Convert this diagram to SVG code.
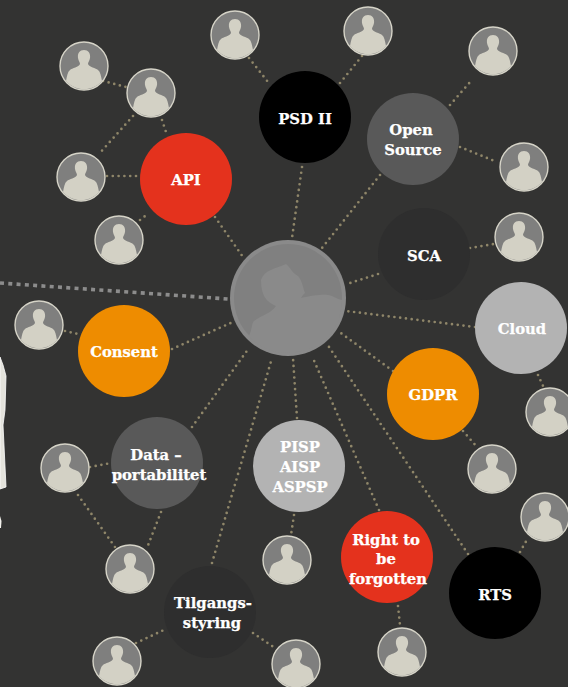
<svg xmlns="http://www.w3.org/2000/svg" width="568" height="687" viewBox="0 0 568 687">
<style>
.c{stroke:#8f8669;stroke-width:2.7;stroke-linecap:round;stroke-dasharray:0 5.8;fill:none}
.t{font-family:"DejaVu Serif","Liberation Serif",serif;font-weight:700;font-size:14.8px;fill:#fff;stroke:#fff;stroke-width:.25;text-anchor:middle}
.n{r:46px}
.red{fill:#e4321d}.org{fill:#ee8c00}.blk{fill:#000}.gr{fill:#595959}.dk{fill:#2e2e2e}.lt{fill:#b3b3b3}
</style>
<defs>
<clipPath id="ac"><circle r="23.4"/></clipPath>
<g id="av">
<circle r="24" fill="#7f7f7e" stroke="#d6d4c8" stroke-width="1.4"/>
<path clip-path="url(#ac)" fill="#d3d1c5" d="M-6-8C-6.500-12-5-16 0-16C5-16 6.500-12 6-8C5.500-5 4-4 4-2C5 1 12 2 14 4C16.500 6 17 10 18 15L18 26L-18 26L-18 15C-17 10-16.500 6-14 4C-12 2-5 1-4-2C-4-4-5.500-5-6-8Z"/>
</g>
</defs>
<rect width="568" height="687" fill="#333332"/>
<path id="edge-shape" d="M0 357L3 365L6 376L5 410L3 425L6 487L0 489Z" fill="#e4e3dc" stroke="#fff" stroke-width=".8"/>
<path d="M0 516L1.500 521L1 528L0 528Z" fill="#f2f1ec"/>
<g id="connectors">
<path d="M0 283L228 299" fill="none" stroke="#8c8c8c" stroke-width="3.600" stroke-dasharray="4 4.300"/>
<path class="c" d="M215 217L243 257M302 167L292 238M380 175L322 248M378 274L347 284M475 327L346 311M393 371L338 331M468 554L327 344M379 510L312 356M297 418L293 358M212 563L272 358M192 427L249 348M172 349L233 322"/>
<path class="c" d="M103 81L126 87M133 116L99 154M162 120L166 132M107 176L138 176M140 220L149 213"/>
<path class="c" d="M90 467L111 463M78 495L115 547M161 512L147 548M136 643L166 629M253 633L275 648"/>
<path class="c" d="M460 147L497 162M450 105L471 81M249 58L268 82M340 83L362 56M470 248L494 244M538 375L544 388M463 431L477 447M520 552L528 538M398 606L400 625M294 515L291 535M65 331L78 334"/>
</g>
<g id="hub">
<circle cx="288" cy="298" r="58" fill="#8a8a8a"/>
<circle cx="288" cy="298" r="54" fill="#808080"/>
<path fill="#8a8a8a" d="M249 336C252 330 252 322 254 321C262 315 270 314 276 306C266 302 261 295 261 280C264 270 275 269 286 264C291 268 291 272 298 276C302 280 303 288 305 293C303 295 302 296 301 298C312 295 325 294 328 295C334 296 336 299 342 300C342 320 330 345 305 350C285 356 262 352 249 336Z"/>
</g>
<g id="api"><circle class="red" cx="186" cy="179" r="46"/><text class="t" x="186" y="185">API</text></g>
<g id="psd"><circle class="blk" cx="305" cy="117" r="46"/><text class="t" x="305" y="124">PSD II</text></g>
<g id="open-source"><circle class="gr" cx="413" cy="139" r="46"/><text class="t" x="411" y="135">Open</text><text class="t" x="413" y="155">Source</text></g>
<g id="sca"><circle class="dk" cx="424" cy="254" r="46"/><text class="t" x="424" y="261">SCA</text></g>
<g id="cloud"><circle class="lt" cx="521" cy="328" r="46"/><text class="t" x="522" y="334">Cloud</text></g>
<g id="gdpr"><circle class="org" cx="433" cy="394" r="46"/><text class="t" x="433" y="400">GDPR</text></g>
<g id="rts"><circle class="blk" cx="495" cy="593" r="46"/><text class="t" x="495" y="600">RTS</text></g>
<g id="right"><circle class="red" cx="387" cy="557" r="46"/><text class="t" x="386" y="545">Right to</text><text class="t" x="386" y="564">be</text><text class="t" x="388" y="584">forgotten</text></g>
<g id="pisp"><circle class="lt" cx="299" cy="466" r="46"/><text class="t" x="300" y="452">PISP</text><text class="t" x="300" y="472">AISP</text><text class="t" x="300" y="492">ASPSP</text></g>
<g id="tilgang"><circle class="dk" cx="210" cy="612" r="46"/><text class="t" x="213" y="608">Tilgangs-</text><text class="t" x="212" y="628">styring</text></g>
<g id="data"><circle class="gr" cx="157" cy="463" r="46"/><text class="t" x="156" y="460">Data –</text><text class="t" x="159" y="480">portabilitet</text></g>
<g id="consent"><circle class="org" cx="124" cy="351" r="46"/><text class="t" x="124" y="357">Consent</text></g>
<g id="person-1"><use href="#av" x="84" y="66"/></g>
<g id="person-2"><use href="#av" x="151" y="93"/></g>
<g id="person-3"><use href="#av" x="81" y="177"/></g>
<g id="person-4"><use href="#av" x="119" y="240"/></g>
<g id="person-5"><use href="#av" x="235" y="35"/></g>
<g id="person-6"><use href="#av" x="368" y="31"/></g>
<g id="person-7"><use href="#av" x="493" y="51"/></g>
<g id="person-8"><use href="#av" x="524" y="167"/></g>
<g id="person-9"><use href="#av" x="519" y="237"/></g>
<g id="person-10"><use href="#av" x="550" y="412"/></g>
<g id="person-11"><use href="#av" x="492" y="469"/></g>
<g id="person-12"><use href="#av" x="545" y="517"/></g>
<g id="person-13"><use href="#av" x="402" y="652"/></g>
<g id="person-14"><use href="#av" x="287" y="560"/></g>
<g id="person-15"><use href="#av" x="296" y="664"/></g>
<g id="person-16"><use href="#av" x="117" y="661"/></g>
<g id="person-17"><use href="#av" x="130" y="569"/></g>
<g id="person-18"><use href="#av" x="65" y="468"/></g>
<g id="person-19"><use href="#av" x="39" y="325"/></g>
</svg>
